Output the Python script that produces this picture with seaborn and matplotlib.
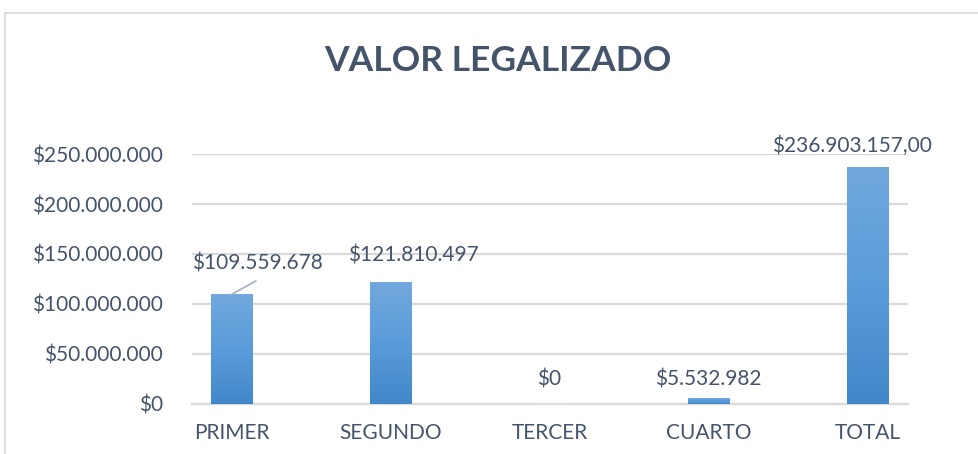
import numpy as np
import matplotlib
matplotlib.use('Agg')
import matplotlib.pyplot as plt
import seaborn as sns
from matplotlib.colors import LinearSegmentedColormap
from matplotlib.lines import Line2D

# Datos del grafico
categorias = ['PRIMER', 'SEGUNDO', 'TERCER', 'CUARTO', 'TOTAL']
valores = [109559678, 121810497, 0, 5532982, 236903157]
etiquetas = ['$109.559.678', '$121.810.497', '$0', '$5.532.982', '$236.903.157,00']
yticks = [0, 50000000, 100000000, 150000000, 200000000, 250000000]
ytick_labels = ['$0', '$50.000.000', '$100.000.000', '$150.000.000',
                '$200.000.000', '$250.000.000']

TEXT = '#44546A'
GRID = '#D9D9D9'

sns.set_theme(style='white')
plt.rcParams['font.family'] = ['Lato', 'DejaVu Sans']

W, H = 979, 454
fig = plt.figure(figsize=(W / 100, H / 100), dpi=100)
ax = fig.add_axes([192 / W, 50 / H, (908 - 192) / W, 250 / H])

sns.barplot(x=categorias, y=valores, ax=ax, width=0.26, color='#5B9BD5',
            saturation=1, zorder=3)

# degradado vertical en cada barra (como en Excel)
cmap = LinearSegmentedColormap.from_list('azul', ['#4187C9', '#5A9CDA', '#71A8DD'])
grad = np.linspace(0, 1, 256).reshape(-1, 1)
for p in ax.patches:
    x0, w, h = p.get_x(), p.get_width(), p.get_height()
    if h <= 0:
        continue
    p.set_facecolor('none')
    p.set_edgecolor('none')
    ax.imshow(grad, extent=[x0, x0 + w, 0, h], origin='lower', cmap=cmap,
              aspect='auto', zorder=3)

ax.set_xlim(-0.248, 4.255)
ax.set_ylim(0, 250000000)
ax.set_yticks(yticks)
ax.set_yticklabels(ytick_labels)
ax.set_xlabel('')
ax.set_ylabel('')
ax.yaxis.grid(True, color=GRID, lw=1.6, zorder=0)
ax.set_axisbelow(True)
for s in ['left', 'right', 'top']:
    ax.spines[s].set_visible(False)
ax.spines['bottom'].set_color(GRID)
ax.spines['bottom'].set_linewidth(1.6)
ax.tick_params(axis='y', length=0, pad=21, labelsize=15, labelcolor=TEXT)
ax.tick_params(axis='x', length=0, pad=14, labelsize=15, labelcolor=TEXT)

# etiquetas de datos (desplazamientos en pixeles)
offsets = [(25.5, 31), (22.5, 27), (0, 24), (0, 18.5), (-16, 21)]
for i, (v, lab) in enumerate(zip(valores, etiquetas)):
    dx, dy = offsets[i]
    ax.annotate(lab, xy=(i, v), xytext=(dx, dy), textcoords='offset pixels',
                ha='center', va='center', fontsize=15, color=TEXT,
                annotation_clip=False)

# linea guia de la primera etiqueta
ax.annotate('', xy=(0, valores[0]), xytext=(24.5, 13.5), textcoords='offset pixels',
            arrowprops=dict(arrowstyle='-', color='#A9B5C3', lw=1.3,
                            shrinkA=0, shrinkB=0))

fig.text(498 / W, 1 - 61 / H, 'VALOR LEGALIZADO', ha='center', va='center',
         fontsize=25.5, fontweight='bold', color=TEXT)

# marco del area del grafico
fig.add_artist(Line2D([5 / W, 5 / W], [0, 1 - 13 / H], color=GRID, lw=1.3))
fig.add_artist(Line2D([5 / W, 1], [1 - 13 / H, 1 - 13 / H], color=GRID, lw=1.3))

fig.savefig('out.png', dpi=100)
